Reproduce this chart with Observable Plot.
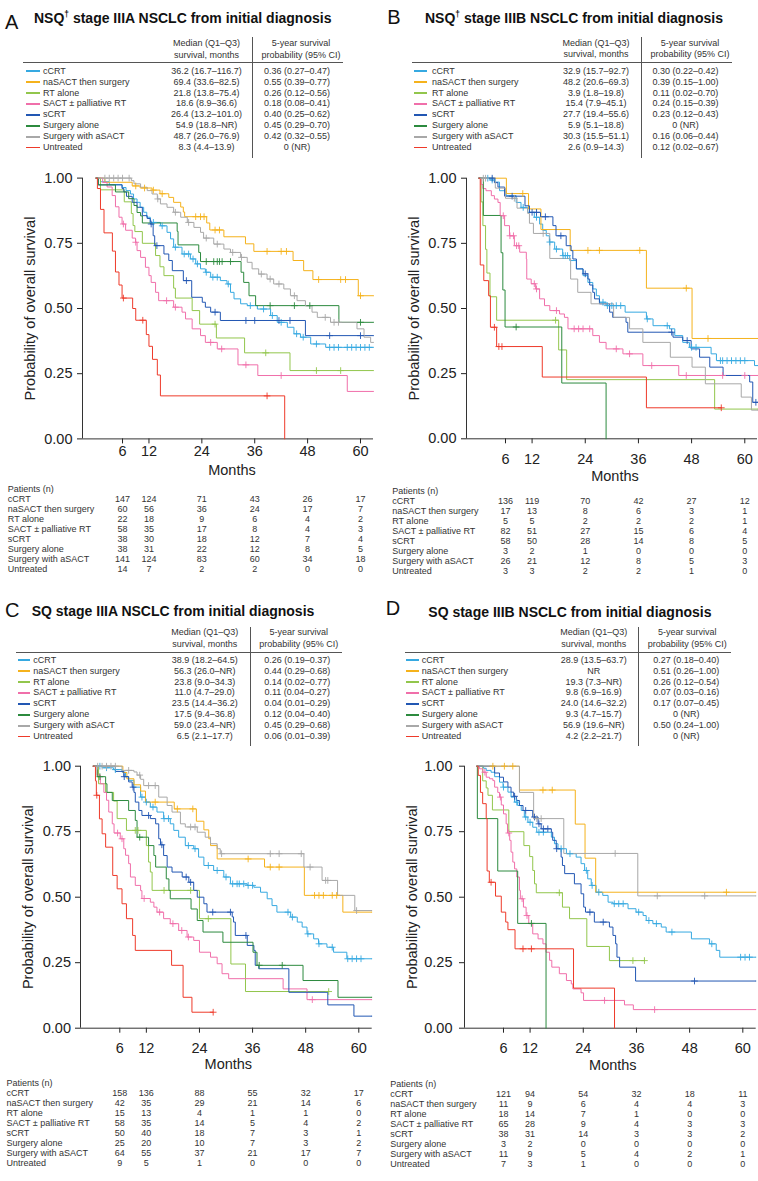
<!DOCTYPE html>
<html><head><meta charset="utf-8">
<script src="https://cdn.jsdelivr.net/npm/d3@7"></script>
<script src="https://cdn.jsdelivr.net/npm/@observablehq/plot@0.6"></script>
<style>
body{margin:0;background:#fff;}
#root{position:relative;width:758px;height:1181px;overflow:hidden;font-family:"Liberation Sans",Arial,Helvetica,sans-serif;color:#222;background:#fff;}
.t{position:absolute;white-space:nowrap;line-height:1;}
.ln{position:absolute;}
</style></head><body><div id="root"></div><script>
const FONT = '"Liberation Sans", Arial, Helvetica, sans-serif';

// ---------- data ----------
const groups = ["cCRT","naSACT then surgery","RT alone","SACT ± palliative RT","sCRT","Surgery alone","Surgery with aSACT","Untreated"];
const colors = ["#36A9E1","#F5B21C","#92C64C","#F06FAA","#2257B3","#2C8A3E","#A8A8A8","#EE3A2A"];
const titles = ["NSQ† stage IIIA NSCLC from initial diagnosis","NSQ† stage IIIB NSCLC from initial diagnosis","SQ stage IIIA NSCLC from initial diagnosis","SQ stage IIIB NSCLC from initial diagnosis"];
const letters = ["A","B","C","D"];
const riskTimes = [6,12,24,36,48,60];
const xTicks = [6,12,24,36,48,60];
const yTicks = [0,0.25,0.5,0.75,1];

const A_median = ["36.2 (16.7–116.7)","69.4 (33.6–82.5)","21.8 (13.8–75.4)","18.6 (8.9–36.6)","26.4 (13.2–101.0)","54.9 (18.8–NR)","48.7 (26.0–76.9)","8.3 (4.4–13.9)"];
const A_fiveYr = ["0.36 (0.27–0.47)","0.55 (0.39–0.77)","0.26 (0.12–0.56)","0.18 (0.08–0.41)","0.40 (0.25–0.62)","0.45 (0.29–0.70)","0.42 (0.32–0.55)","0 (NR)"];
const B_median = ["32.9 (15.7–92.7)","48.2 (20.6–69.3)","3.9 (1.8–19.8)","15.4 (7.9–45.1)","27.7 (19.4–55.6)","5.9 (5.1–18.8)","30.3 (15.5–51.1)","2.6 (0.9–14.3)"];
const B_fiveYr = ["0.30 (0.22–0.42)","0.39 (0.15–1.00)","0.11 (0.02–0.70)","0.24 (0.15–0.39)","0.23 (0.12–0.43)","0 (NR)","0.16 (0.06–0.44)","0.12 (0.02–0.67)"];
const C_median = ["38.9 (18.2–64.5)","56.3 (26.0–NR)","23.8 (9.0–34.3)","11.0 (4.7–29.0)","23.5 (14.4–36.2)","17.5 (9.4–36.8)","59.0 (23.4–NR)","6.5 (2.1–17.7)"];
const C_fiveYr = ["0.26 (0.19–0.37)","0.44 (0.29–0.68)","0.14 (0.02–0.77)","0.11 (0.04–0.27)","0.04 (0.01–0.29)","0.12 (0.04–0.40)","0.45 (0.29–0.68)","0.06 (0.01–0.39)"];
const D_median = ["28.9 (13.5–63.7)","NR","19.3 (7.3–NR)","9.8 (6.9–16.9)","24.0 (14.6–32.2)","9.3 (4.7–15.7)","56.9 (19.6–NR)","4.2 (2.2–21.7)"];
const D_fiveYr = ["0.27 (0.18–0.40)","0.51 (0.26–1.00)","0.26 (0.12–0.54)","0.07 (0.03–0.16)","0.17 (0.07–0.45)","0 (NR)","0.50 (0.24–1.00)","0 (NR)"];

const A_risk = [[147,124,71,43,26,17],[60,56,36,24,17,7],[22,18,9,6,4,2],[58,35,17,8,4,3],[38,30,18,12,7,4],[38,31,22,12,8,5],[141,124,83,60,34,18],[14,7,2,2,0,0]];
const B_risk = [[136,119,70,42,27,12],[17,13,8,6,3,1],[5,5,2,2,2,1],[82,51,27,15,6,4],[58,50,28,14,8,5],[3,2,1,0,0,0],[26,21,12,8,5,3],[3,3,2,2,1,0]];
const C_risk = [[158,136,88,55,32,17],[42,35,29,21,14,6],[15,13,4,1,1,0],[58,35,14,5,4,2],[50,40,18,7,3,1],[25,20,10,7,3,2],[64,55,37,21,17,7],[9,5,1,0,0,0]];
const D_risk = [[121,94,54,32,18,11],[11,9,6,4,4,3],[18,14,7,1,0,0],[65,28,9,4,3,3],[38,31,14,3,3,2],[3,2,0,0,0,0],[11,9,5,4,2,1],[7,3,1,0,0,0]];

// ---- Panel A curves: [month, survival] steps ; censor months ----
const A_cCRT = [[0,1],[1,0.986],[3,0.975],[5.9,0.964],[6.8,0.952],[7.8,0.939],[8.5,0.92],[9.3,0.907],[10,0.888],[10.8,0.869],[11.5,0.85],[12.3,0.83],[14.6,0.817],[16.1,0.792],[16.9,0.767],[17.6,0.735],[19.5,0.709],[21.4,0.69],[22.6,0.671],[23.7,0.652],[24.8,0.639],[26,0.62],[28.2,0.607],[29.7,0.594],[30.5,0.562],[31.3,0.537],[32.8,0.518],[34.3,0.511],[36.6,0.498],[39.6,0.473],[41.1,0.447],[43.4,0.428],[44.9,0.403],[46.4,0.39],[48.7,0.364],[52.1,0.351],[63,0.351]];
const A_cCRT_c = [13,15,18,20,21,22,23,25,26.5,27.5,30,35,38,40,42,45.5,47,50,53,54,55,57,58,59,60,61,62];
const A_naSACT = [[0,1],[2,0.984],[8.2,0.97],[10,0.962],[12.7,0.954],[14.5,0.94],[16.5,0.926],[17.6,0.907],[19.2,0.889],[19.8,0.87],[20.1,0.852],[25.1,0.828],[25.8,0.801],[29,0.775],[33.9,0.748],[35.8,0.719],[44.7,0.684],[47.1,0.645],[49.2,0.611],[59.5,0.549],[63,0.549]];
const A_naSACT_c = [9,11,13,15,22.6,23.7,24.5,27,28,38.8,42,43.2,50.5,55.5,56.6,60];
const A_RT = [[0,1],[1,0.955],[6.4,0.909],[8,0.864],[8.4,0.818],[8.8,0.795],[10.5,0.75],[13.5,0.703],[14.5,0.66],[15.4,0.626],[17.6,0.578],[18,0.54],[21.8,0.492],[23.5,0.44],[27.3,0.387],[33.7,0.33],[44,0.262],[63,0.262]];
const A_RT_c = [27,38.5,50,55.5];
const A_SACT = [[0,1],[1.5,0.983],[2.5,0.966],[3.65,0.933],[4.4,0.89],[5.2,0.85],[5.9,0.824],[6.7,0.8],[8.2,0.77],[8.95,0.754],[9.3,0.722],[10.1,0.696],[11.2,0.658],[12,0.626],[12.5,0.6],[13.5,0.562],[14.2,0.53],[17.6,0.505],[19.5,0.486],[20.3,0.46],[21.8,0.422],[23.7,0.396],[24.8,0.37],[27.5,0.345],[32.2,0.284],[36.7,0.243],[57,0.182],[63,0.182]];
const A_SACT_c = [6.2,9,16,18,26,28.5,34,42];
const A_sCRT = [[0,1],[0.5,0.974],[5.9,0.96],[6.3,0.947],[6.9,0.93],[8.2,0.907],[9.3,0.888],[10.5,0.856],[11.6,0.845],[12.3,0.824],[12.95,0.779],[13.3,0.741],[15.4,0.709],[16.5,0.684],[17.3,0.645],[19.8,0.607],[21.7,0.543],[24.1,0.524],[24.8,0.505],[26,0.486],[28.2,0.454],[47.5,0.396],[63,0.396]];
const A_sCRT_c = [12.5,13.8,20.5,27,34,36,41.5,44,53,60];
const A_SurgAlone = [[0,1],[0.5,0.974],[4.4,0.947],[7.4,0.921],[8.6,0.895],[9.3,0.868],[10.1,0.855],[10.5,0.828],[18.4,0.796],[18.6,0.744],[23.3,0.715],[23.7,0.68],[32.9,0.639],[33.5,0.6],[34.7,0.549],[36.2,0.511],[55.1,0.447],[63,0.447]];
const A_SurgAlone_c = [25,26.7,27.5,28,28.6,30.5,39.5,45,48.5,60];
const A_SurgASACT = [[0,1],[8,0.99],[8.6,0.978],[10.1,0.965],[11.6,0.952],[12.7,0.939],[13.9,0.92],[14.6,0.901],[16.1,0.888],[17.6,0.869],[19.2,0.85],[20.7,0.83],[22.2,0.811],[23.7,0.792],[24.4,0.77],[26.7,0.747],[29,0.728],[30.5,0.715],[32.8,0.696],[34.3,0.677],[35.4,0.652],[36.9,0.632],[38.8,0.613],[40.3,0.594],[42.6,0.575],[44.1,0.549],[45.6,0.53],[47.5,0.51],[49,0.486],[50.2,0.466],[53.2,0.447],[59.2,0.422],[60.8,0.39],[62.3,0.37],[63,0.37]];
const A_SurgASACT_c = [2,3,4,5,6,7.5,14,18,21,25,27.5,31,33,37.5,39.5,41.5,45,52,54,55];
const A_Untreated = [[0,1],[0.3,0.96],[1,0.88],[1.8,0.79],[3.7,0.72],[4.4,0.64],[5.2,0.59],[5.9,0.54],[8.3,0.5],[9,0.455],[11.4,0.4],[12,0.355],[12.8,0.305],[13.9,0.245],[14.6,0.165],[42.8,0]];
const A_Untreated_c = [6.2,10.6,38.8];

// ---- Panel B ----
const B_cCRT = [[0,1],[2.5,0.993],[3.5,0.985],[4.65,0.952],[6.15,0.933],[8.4,0.907],[9.5,0.888],[11,0.869],[12.5,0.85],[13.7,0.824],[14.4,0.8],[15.2,0.779],[15.9,0.755],[17.1,0.728],[18.9,0.703],[20.5,0.684],[22,0.652],[23.5,0.626],[24.6,0.6],[25.7,0.575],[26.5,0.549],[27.2,0.524],[28.7,0.511],[33,0.486],[37.8,0.46],[39.3,0.434],[43,0.422],[44.2,0.396],[46,0.37],[47.5,0.351],[52.4,0.326],[53.6,0.3],[62.2,0.281],[63,0.281]];
const B_cCRT_c = [2,3,10,13,16,17.5,19,19.5,20,28,29,30,31,32,38,42.5,48,49,54.5,55,56,57,58,59,60];
const B_naSACT = [[0,1],[6.2,0.941],[11.2,0.882],[14,0.803],[20.6,0.723],[37.8,0.578],[48.1,0.385],[63,0.385]];
const B_naSACT_c = [9.9,24.6,27.2,36.3,46.8,51.7];
const B_RT = [[0,1],[0.5,0.909],[0.9,0.818],[1.5,0.727],[1.8,0.636],[2.5,0.545],[4,0.455],[18,0.341],[19.8,0.227],[53.2,0.114],[63,0.114]];
const B_RT_c = [17.3];
const B_SACT = [[0,1],[0.5,0.976],[0.9,0.96],[1.6,0.952],[2.8,0.933],[3.5,0.92],[4.3,0.907],[4.8,0.856],[5.8,0.818],[6.9,0.779],[8,0.741],[9.2,0.716],[10.7,0.69],[10.8,0.613],[11.8,0.595],[12.8,0.575],[13.7,0.537],[14.8,0.511],[16,0.492],[18.2,0.479],[19.3,0.466],[20.1,0.422],[25.7,0.396],[27.2,0.37],[28.7,0.345],[32.5,0.326],[37,0.281],[45.1,0.243],[63,0.243]];
const B_SACT_c = [5.5,7,7.8,8.5,9,12.5,13,17.5,21.5,22.5,23.5,25,31,34,39,46.8,55,60];
const B_sCRT = [[0,1],[3.5,0.983],[4.3,0.966],[5.8,0.931],[10.4,0.894],[11.4,0.869],[13.9,0.852],[16.7,0.818],[17.4,0.779],[19.7,0.741],[20.8,0.722],[21.2,0.69],[22,0.652],[23.5,0.633],[24.6,0.613],[25,0.59],[25.7,0.562],[26.1,0.537],[27.2,0.518],[29.5,0.486],[30.2,0.466],[33.2,0.447],[33.6,0.409],[43.8,0.39],[46,0.377],[47.9,0.345],[49.8,0.313],[52.1,0.275],[55.1,0.243],[61.1,0.218],[61.8,0.14],[63,0.14]];
const B_sCRT_c = [3,7.5,12,13,15,18.5,24,43.5,47,62.5];
const B_SurgAlone = [[0,1],[1,0.857],[5,0.714],[5.4,0.571],[5.9,0.429],[18.7,0.214],[28.7,0]];
const B_SurgAlone_c = [8.4];
const B_SurgASACT = [[0,1],[3.7,0.962],[6,0.923],[8.6,0.885],[11,0.865],[11.4,0.827],[12.3,0.788],[16,0.692],[20.7,0.613],[22.3,0.562],[25.3,0.518],[30.4,0.466],[34,0.422],[37,0.37],[43.2,0.313],[48.1,0.275],[51.1,0.211],[59.2,0.16],[61.5,0.11],[63,0.11]];
const B_SurgASACT_c = [1,1.5,8,14.5];
const B_Untreated = [[0,1],[0.3,0.667],[1.1,0.607],[2.2,0.549],[2.6,0.428],[4,0.354],[14.3,0.237],[37.8,0.119],[54.7,0.119]];
const B_Untreated_c = [3.5,4.5,5.2,54.7];

// ---- Panel C ----
const C_cCRT = [[0,1],[2,0.994],[4.6,0.987],[6.5,0.977],[7.3,0.96],[8,0.946],[9.2,0.92],[10.7,0.882],[11.8,0.863],[12.9,0.844],[14.4,0.825],[15.9,0.8],[17.4,0.78],[18.2,0.755],[19.3,0.729],[20.8,0.697],[22.7,0.685],[23.8,0.653],[25,0.621],[27.2,0.602],[29.5,0.577],[31,0.551],[34.8,0.545],[36.3,0.538],[37.8,0.519],[39.3,0.494],[40.4,0.468],[41.5,0.443],[44.6,0.424],[46.1,0.405],[47.2,0.386],[48.3,0.36],[49.8,0.341],[50.9,0.322],[52.8,0.309],[54.3,0.29],[57.3,0.265],[63,0.265]];
const C_cCRT_c = [1.5,3,5,11,12,13.5,16,17,21.5,23,26,28,30,31.5,32.5,33,34,35,36,44,45,48.5,51,54,57.5,58.5,59.5,60.5];
const C_naSACT = [[0,1],[6.7,0.976],[7.6,0.952],[9.2,0.929],[10.7,0.905],[11.8,0.863],[18.3,0.837],[23.3,0.79],[25,0.757],[26.1,0.723],[26.5,0.697],[28,0.646],[38.7,0.615],[47.7,0.507],[56.4,0.443],[63,0.443]];
const C_naSACT_c = [14,19,22.5,35,40,42,50,51,52,54,55];
const C_RT = [[0,1],[1.2,0.933],[2.8,0.9],[4.6,0.867],[5.4,0.8],[7.5,0.755],[12,0.697],[12.5,0.634],[12.9,0.596],[13.3,0.526],[24,0.418],[31.1,0.245],[34.4,0.14],[53.2,0.14]];
const C_RT_c = [9.5,10.1,16,22,26,53.2];
const C_SACT = [[0,1],[0.9,0.966],[1.6,0.933],[2.4,0.9],[3,0.87],[3.5,0.825],[4.3,0.78],[4.7,0.745],[6.1,0.723],[6.9,0.685],[7.3,0.66],[8,0.628],[8.4,0.577],[9.5,0.545],[10.7,0.525],[11,0.495],[12.9,0.481],[13.7,0.462],[14.4,0.443],[15.9,0.418],[17.4,0.399],[19.3,0.373],[21.2,0.348],[22.7,0.335],[24,0.29],[26.5,0.271],[28,0.246],[29.1,0.208],[30.6,0.189],[42.9,0.15],[48.3,0.109],[63,0.109]];
const C_SACT_c = [5.5,6.5,11.5,15,18,20,21.5,49.5];
const C_sCRT = [[0,1],[5,0.98],[6.9,0.96],[8,0.94],[8.8,0.92],[9.2,0.9],[9.5,0.863],[10.3,0.831],[11,0.812],[12.9,0.8],[14.1,0.78],[14.8,0.723],[15.2,0.7],[15.9,0.659],[16.7,0.615],[17.8,0.596],[20.1,0.577],[21.6,0.557],[22.7,0.526],[23.5,0.5],[25,0.475],[25.7,0.443],[31.4,0.425],[31.7,0.405],[32.1,0.354],[34.8,0.316],[36.3,0.297],[36.6,0.24],[37.4,0.227],[44.2,0.137],[53,0.089],[58.9,0.046],[63,0.046]];
const C_sCRT_c = [7,9,12.5,15.5,21,22,27,31,34.5];
const C_SurgAlone = [[0,1],[0.9,0.96],[2.8,0.933],[3.1,0.9],[4.3,0.869],[8,0.831],[9.5,0.793],[9.9,0.729],[12.5,0.697],[13.7,0.659],[14.1,0.615],[16.5,0.57],[17.1,0.526],[17.4,0.494],[22.1,0.455],[23.5,0.411],[24.8,0.367],[29.3,0.328],[36.1,0.29],[37,0.24],[47.4,0.182],[55.3,0.118],[63,0.118]];
const C_SurgAlone_c = [1.5,10.5,37.5,42.7];
const C_SurgASACT = [[0,1],[6.5,0.984],[9.2,0.978],[9.9,0.966],[10.7,0.95],[11.4,0.926],[14.8,0.882],[16.7,0.85],[17.8,0.825],[19.7,0.78],[20.8,0.768],[23.5,0.748],[25.3,0.729],[26.5,0.704],[28,0.685],[28.7,0.666],[47.6,0.615],[51.7,0.564],[55.2,0.507],[59.1,0.449],[63,0.449]];
const C_SurgASACT_c = [1,2,3,4,5,8,10.5,12.5,14,22,23,29,40,42,47,49,52.5,53,59.5];
const C_Untreated = [[0,1],[0.5,0.944],[0.7,0.889],[1.4,0.799],[2,0.742],[2.8,0.691],[4.4,0.583],[5.4,0.532],[6.5,0.475],[7.5,0.418],[8.9,0.354],[9.5,0.297],[17.7,0.24],[20.3,0.118],[22.3,0.061],[27.1,0.061]];
const C_Untreated_c = [0.8,27.1];

// ---- Panel D ----
const D_cCRT = [[0,1],[1.5,0.992],[2.1,0.984],[3.2,0.977],[4,0.96],[5.1,0.939],[5.9,0.92],[7,0.901],[7.7,0.882],[8.5,0.863],[9.2,0.85],[10,0.831],[10.7,0.806],[11.5,0.786],[12.6,0.767],[13.5,0.748],[16.8,0.729],[17.5,0.704],[18.3,0.685],[20.2,0.666],[22.4,0.653],[23.5,0.628],[24.3,0.602],[25,0.57],[25.8,0.545],[26.9,0.519],[28.4,0.507],[29.6,0.481],[30.7,0.475],[34.1,0.456],[35.9,0.443],[37.5,0.43],[38.2,0.411],[39.7,0.399],[41.6,0.386],[42.7,0.367],[48.4,0.341],[52.5,0.322],[54,0.297],[54.8,0.271],[63,0.271]];
const D_cCRT_c = [6,9,11,12,14,15,19,21,24.7,26,27.5,31,32,33,36.5,38.8,40.5,44,53,59.5,60.5,61.5];
const D_naSACT = [[0,1],[9.6,0.909],[22.2,0.779],[24.4,0.649],[26.8,0.519],[63,0.519]];
const D_naSACT_c = [3.6,6.2,8.1,14.9,17,56.3];
const D_RT = [[0,1],[1.3,0.944],[2.1,0.917],[2.5,0.889],[3.5,0.833],[7.2,0.75],[10.6,0.697],[11.9,0.655],[12.6,0.602],[13,0.551],[13.4,0.517],[19.3,0.462],[20.9,0.418],[24.8,0.312],[29.9,0.258],[37.8,0.258]];
const D_RT_c = [18.6,35.2,37.8];
const D_SACT = [[0,1],[0.6,0.99],[1.35,0.977],[2.1,0.958],[2.85,0.952],[3.6,0.945],[4,0.92],[4.7,0.9],[5.1,0.882],[5.5,0.852],[6,0.818],[6.6,0.78],[6.9,0.745],[7.4,0.717],[7.7,0.672],[8.1,0.634],[8.5,0.608],[9,0.577],[9.6,0.526],[9.8,0.494],[10.5,0.462],[11.1,0.43],[11.7,0.399],[12.6,0.36],[13.8,0.341],[14.9,0.322],[15.6,0.29],[16.4,0.259],[16.9,0.233],[18.6,0.208],[20.2,0.182],[21.3,0.169],[21.65,0.15],[23.5,0.135],[24.06,0.106],[33.3,0.089],[35.3,0.071],[63,0.071]];
const D_SACT_c = [1.8,5.3,7.2,10.2,11.3,28.8,40.1];
const D_sCRT = [[0,1],[4,0.974],[5.1,0.958],[6,0.94],[7,0.92],[7.7,0.901],[8.3,0.885],[8.9,0.869],[9.6,0.85],[10.4,0.831],[12.6,0.806],[13.8,0.78],[14.5,0.761],[16.8,0.748],[17.1,0.717],[17.9,0.685],[19,0.653],[19.3,0.621],[19.8,0.59],[22,0.551],[23.5,0.513],[24.1,0.462],[24.5,0.443],[26.5,0.405],[29.9,0.386],[30.7,0.354],[31.3,0.322],[31.6,0.271],[32.2,0.233],[35.8,0.18],[63,0.18]];
const D_sCRT_c = [8.5,11,13,14,15,16,18,25.5,28.5,49.1];
const D_SurgAlone = [[0,1],[0.1,0.8],[4.7,0.6],[9.2,0.4],[15.6,0]];
const D_SurgAlone_c = [12.3];
const D_SurgASACT = [[0,1],[9.6,0.9],[12.8,0.8],[19.6,0.667],[36.3,0.505],[63,0.505]];
const D_SurgASACT_c = [13.5,14.5,31.2,40.7,51.4];
const D_Untreated = [[0,1],[0.3,0.965],[0.8,0.9],[1.3,0.857],[2.1,0.8],[2.3,0.6],[2.8,0.557],[4.2,0.504],[5.5,0.443],[6.5,0.405],[7,0.376],[8.6,0.303],[21.8,0.153],[31.05,0]];
const D_Untreated_c = [3.2,10.4,12.3];

const A_curves = [A_cCRT,A_naSACT,A_RT,A_SACT,A_sCRT,A_SurgAlone,A_SurgASACT,A_Untreated];
const A_cens = [A_cCRT_c,A_naSACT_c,A_RT_c,A_SACT_c,A_sCRT_c,A_SurgAlone_c,A_SurgASACT_c,A_Untreated_c];
const B_curves = [B_cCRT,B_naSACT,B_RT,B_SACT,B_sCRT,B_SurgAlone,B_SurgASACT,B_Untreated];
const B_cens = [B_cCRT_c,B_naSACT_c,B_RT_c,B_SACT_c,B_sCRT_c,B_SurgAlone_c,B_SurgASACT_c,B_Untreated_c];
const C_curves = [C_cCRT,C_naSACT,C_RT,C_SACT,C_sCRT,C_SurgAlone,C_SurgASACT,C_Untreated];
const C_cens = [C_cCRT_c,C_naSACT_c,C_RT_c,C_SACT_c,C_sCRT_c,C_SurgAlone_c,C_SurgASACT_c,C_Untreated_c];
const D_curves = [D_cCRT,D_naSACT,D_RT,D_SACT,D_sCRT,D_SurgAlone,D_SurgASACT,D_Untreated];
const D_cens = [D_cCRT_c,D_naSACT_c,D_RT_c,D_SACT_c,D_sCRT_c,D_SurgAlone_c,D_SurgASACT_c,D_Untreated_c];

// ---------- layout (positions only) ----------
const layouts = [
  {letter:{x:5,b:29.3}, title:{x:34,b:22.7}, seg:[26,40], label:43, medC:206.5, ciHC:301, ciC:297, vline:{x:252,y1:37,y2:158}, hrule:{x1:23,x2:343,y:62}, hdr:[43,55], row0:71, step:10.96,
   plot:{left:0,top:160,width:379,height:320,axisX:82,right:373,y1:177.6,y0:438.4,xd:[-3.08,62.95],tickPad:2.2,ytickPad:5,monthsDy:31.6,monthsDx:4,ytDx:-52},
   risk:{top:474,height:112,rows:[480.7,578.3],labelX:7.3}},
  {letter:{x:387.3,b:24}, title:{x:425,b:22.7}, seg:[414,427], label:432, medC:596, ciHC:690, ciC:685.5, vline:{x:641,y1:37,y2:158}, hrule:{x1:412,x2:732,y:62}, hdr:[43.3,54.5], row0:71, step:10.96,
   plot:{left:379,top:160,width:379,height:325,axisX:466,right:757,y1:177.7,y0:438.3,xd:[-2.8,62.87],tickPad:10,ytickPad:5,monthsDy:38,monthsDx:3,ytDx:-52},
   risk:{top:476,height:112,rows:[482.7,579.3],labelX:391.7}},
  {letter:{x:5,b:616.7}, title:{x:31.7,b:615.7}, seg:[18,30], label:33.3, medC:204.7, ciHC:298.8, ciC:297.2, vline:{x:250,y1:627,y2:746}, hrule:{x1:16,x2:341.7,y:652.3}, hdr:[632.7,644.3], row0:660, step:10.96,
   plot:{left:0,top:750,width:379,height:320,axisX:80,right:371.7,y1:765.7,y0:1027.7,xd:[-2.88,63.03],tickPad:9.5,ytickPad:4.5,monthsDy:36.6,monthsDx:2,ytDx:-51.7},
   risk:{top:1068,height:112,rows:[1075,1171.7],labelX:6}},
  {letter:{x:385.7,b:615}, title:{x:428.3,b:616.7}, seg:[406,419], label:421.7, medC:593.7, ciHC:687.3, ciC:686.3, vline:{x:638.3,y1:626.7,y2:746}, hrule:{x1:405,x2:730.7,y:652.3}, hdr:[632.7,644], row0:660, step:10.96,
   plot:{left:379,top:750,width:379,height:320,axisX:464,right:755.7,y1:765.7,y0:1027.7,xd:[-2.8,63.02],tickPad:9.4,ytickPad:7,monthsDy:37.3,monthsDx:2.5,ytDx:-51.7},
   risk:{top:1068,height:112,rows:[1075,1172.3],labelX:389.7}}
];

const panels = [
  {curves:A_curves, cens:A_cens, median:A_median, five:A_fiveYr, risk:A_risk},
  {curves:B_curves, cens:B_cens, median:B_median, five:B_fiveYr, risk:B_risk},
  {curves:C_curves, cens:C_cens, median:C_median, five:C_fiveYr, risk:C_risk},
  {curves:D_curves, cens:D_cens, median:D_median, five:D_fiveYr, risk:D_risk}
];

// ---------- helpers ----------
const root = document.getElementById("root");
function put(html, x, base, size, o = {}) {
  const d = document.createElement("div");
  d.className = "t";
  d.innerHTML = html;
  d.style.fontSize = size + "px";
  d.style.fontWeight = o.weight || "normal";
  d.style.color = o.color || "#333";
  d.style.top = (base - 0.8465 * size) + "px";
  d.style.left = x + "px";
  if (o.anchor === "middle") d.style.transform = "translateX(-50%)";
  root.appendChild(d);
}
function hline(x1, x2, y, color, w) {
  const d = document.createElement("div");
  d.className = "ln";
  Object.assign(d.style, {left: x1 + "px", top: (y - w / 2) + "px", width: (x2 - x1) + "px", height: w + "px", background: color});
  root.appendChild(d);
}
function vline(x, y1, y2, color, w) {
  const d = document.createElement("div");
  d.className = "ln";
  Object.assign(d.style, {left: (x - w / 2) + "px", top: y1 + "px", width: w + "px", height: (y2 - y1) + "px", background: color});
  root.appendChild(d);
}
function stepAt(steps, t) {
  let s = steps[0][1];
  for (const [tt, ss] of steps) { if (tt <= t) s = ss; else break; }
  return s;
}
function place(el, left, top) {
  el.style.position = "absolute";
  el.style.left = left + "px";
  el.style.top = top + "px";
  root.appendChild(el);
}

// ---------- draw ----------
panels.forEach((p, k) => {
  const L = layouts[k];
  const off = 3.2;
  put(letters[k], L.letter.x, L.letter.b, 20, {color: "#111"});
  put(titles[k].replace("†", '<span style="font-size:0.6em;position:relative;top:-0.65em">†</span>'), L.title.x, L.title.b, 14, {weight: "bold", color: "#111"});
  put("Median (Q1–Q3)", L.medC, L.hdr[0] + off, 9, {anchor: "middle"});
  put("survival, months", L.medC, L.hdr[1] + off, 9, {anchor: "middle"});
  put("5-year survival", L.ciHC, L.hdr[0] + off, 9, {anchor: "middle"});
  put("probability (95% CI)", L.ciHC, L.hdr[1] + off, 9, {anchor: "middle"});
  hline(L.hrule.x1, L.hrule.x2, L.hrule.y, "#555", 1);
  vline(L.vline.x, L.vline.y1, L.vline.y2, "#555", 1);
  groups.forEach((g, i) => {
    const cy = L.row0 + i * L.step;
    hline(L.seg[0], L.seg[1], cy, colors[i], 1.5);
    put(g, L.label, cy + off, 9);
    put(p.median[i], L.medC, cy + off, 9, {anchor: "middle"});
    put(p.five[i], L.ciC, cy + off, 9, {anchor: "middle"});
  });

  // KM plot
  const P = L.plot;
  const lines = [], marks = [];
  p.curves.forEach((steps, i) => {
    steps.forEach(([t, s]) => lines.push({g: groups[i], t, s}));
    p.cens[i].forEach(t => marks.push({g: groups[i], t, s: stepAt(steps, t)}));
  });
  const km = Plot.plot({
    width: P.width, height: P.height,
    marginLeft: P.axisX - P.left, marginRight: P.left + P.width - P.right,
    marginTop: P.y1 - P.top, marginBottom: P.top + P.height - P.y0,
    style: {fontFamily: FONT, fontSize: "14.5px", color: "#222", background: "transparent", overflow: "visible"},
    x: {domain: P.xd},
    y: {domain: [0, 1]},
    color: {domain: groups, range: colors},
    marks: [
      Plot.axisX({ticks: xTicks, tickSize: 5, tickPadding: P.tickPad, fontSize: 14.5, label: null}),
      Plot.axisY({ticks: yTicks, tickSize: 5, tickPadding: P.ytickPad, fontSize: 14.5, tickFormat: d3.format(".2f"), label: null}),
      Plot.ruleX([P.xd[0]], {y1: 0, y2: 1, stroke: "#333"}),
      Plot.ruleY([0], {x1: P.xd[0], x2: P.xd[1], stroke: "#333"}),
      Plot.line(lines, {x: "t", y: "s", z: "g", stroke: "g", curve: "step-after", strokeWidth: 1}),
      Plot.dot(marks, {x: "t", y: "s", stroke: "g", symbol: "plus", r: 2.3, strokeWidth: 0.9}),
      Plot.text(["Months"], {frameAnchor: "bottom", lineAnchor: "middle", textAnchor: "middle", dy: P.monthsDy, dx: P.monthsDx, fontSize: 14.5}),
      Plot.text(["Probability of overall survival"], {frameAnchor: "left", textAnchor: "middle", lineAnchor: "middle", rotate: -90, dx: P.ytDx, fontSize: 14.5})
    ]
  });
  place(km, P.left, P.top);

  // Risk table
  const R = L.risk;
  const rowDomain = ["Patients (n)", ...groups];
  const cells = [];
  p.risk.forEach((row, i) => row.forEach((n, j) => cells.push({g: groups[i], t: riskTimes[j], n})));
  const rt = Plot.plot({
    width: P.width, height: R.height,
    marginLeft: P.axisX - P.left, marginRight: P.left + P.width - P.right, marginTop: 0, marginBottom: 0,
    style: {fontFamily: FONT, fontSize: "9px", color: "#333", background: "transparent", overflow: "visible"},
    x: {domain: P.xd, axis: null},
    y: {type: "point", domain: rowDomain, range: [R.rows[0] - R.top, R.rows[1] - R.top], axis: null},
    marks: [
      Plot.text(cells, {x: "t", y: "g", text: d => String(d.n), fontSize: 9, fill: "#333"}),
      Plot.text(rowDomain, {y: d => d, frameAnchor: "left", textAnchor: "start", dx: -(P.axisX - R.labelX), fontSize: 9, fill: "#333"})
    ]
  });
  place(rt, P.left, R.top);
});
</script></body></html>
